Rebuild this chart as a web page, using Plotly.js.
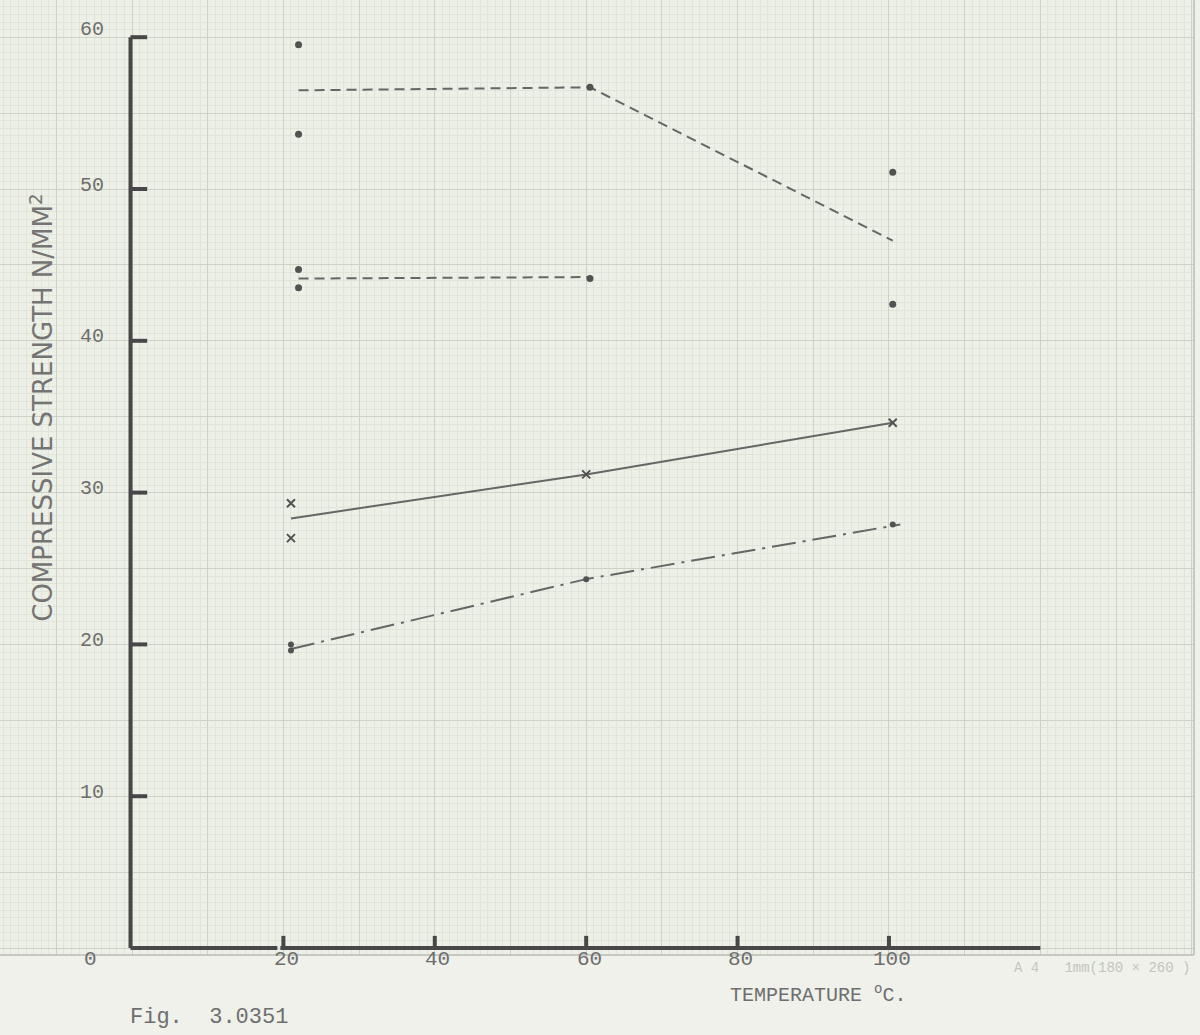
<!DOCTYPE html>
<html>
<head>
<meta charset="utf-8">
<script src="https://cdn.plot.ly/plotly-3.0.1.min.js"></script>
<style>html,body{margin:0;padding:0;background:#eff1ea;}#chart{width:1200px;height:1035px;}</style>
</head>
<body>
<div id="chart"></div>
<script>
// ---- Data ----
// Series A: upper dashed line (circles)
const lineTempA = [22, 60.5, 100.5];
const lineA     = [56.5, 56.7, 46.6];
const ptTempA   = [22, 22, 60.5, 100.5, 100.5];
const ptA       = [59.5, 53.6, 56.7, 51.1, 42.4];
// Series B: lower dashed line (circles)
const lineTempB = [22, 60.5];
const lineB     = [44.1, 44.2];
const ptTempB   = [22, 22, 60.5];
const ptB       = [44.7, 43.5, 44.1];
// Series C: solid line (crosses)
const lineTempC = [21, 60, 100.5];
const lineC     = [28.3, 31.2, 34.6];
const ptTempC   = [21, 21, 60, 100.5];
const ptC       = [29.3, 27.0, 31.2, 34.6];
// Series D: dash-dot line (small circles)
const lineTempD = [21, 60, 101.5];
const lineD     = [19.7, 24.3, 27.9];
const ptTempD   = [21, 21, 60, 100.5];
const ptD       = [20.0, 19.6, 24.3, 27.9];

// Axis ticks / labels
const xTickVals   = [0, 20, 40, 60, 80, 100];
const xTickLabels = ['0', '20', '40', '60', '80', '100'];
const yTickVals   = [10, 20, 30, 40, 50, 60];
const yTickLabels = ['10', '20', '30', '40', '50', '60'];
const xAxisMax = 120;
const yAxisMax = 60;

// ---- Styling ----
const lineCol = '#666666';
const markCol = '#525252';
const axisCol = '#474747';
const textCol = '#6e6e6e';
const mono = '"Liberation Mono", "DejaVu Sans Mono", monospace';
const plotH = 955; // plot-area height in px (for paper-y conversions)
const py = p => (plotH - p) / plotH;

const traces = [
  {x: lineTempA, y: lineA, mode: 'lines', line: {color: lineCol, width: 2, dash: '10px,6px'}},
  {x: ptTempA, y: ptA, mode: 'markers', marker: {color: markCol, size: 7, symbol: 'circle'}},
  {x: lineTempB, y: lineB, mode: 'lines', line: {color: lineCol, width: 2, dash: '10px,6px'}},
  {x: ptTempB, y: ptB, mode: 'markers', marker: {color: markCol, size: 7, symbol: 'circle'}},
  {x: lineTempC, y: lineC, mode: 'lines', line: {color: lineCol, width: 2}},
  {x: ptTempC, y: ptC, mode: 'markers', marker: {color: markCol, size: 8, symbol: 'x-thin-open', line: {color: markCol, width: 2}}},
  {x: lineTempD, y: lineD, mode: 'lines', line: {color: lineCol, width: 2, dash: '24px,7px,3px,7px'}},
  {x: ptTempD, y: ptD, mode: 'markers', marker: {color: markCol, size: 6, symbol: 'circle'}}
];

// Axis lines and ticks drawn in data coordinates
const shapes = [];
const axLine = {color: axisCol, width: 4};
shapes.push({type: 'line', xref: 'x', yref: 'y', x0: -0.2, x1: -0.2, y0: 0, y1: yAxisMax, line: axLine, layer: 'above'});
shapes.push({type: 'line', xref: 'x', yref: 'y', x0: -0.2, x1: 19.2, y0: 0, y1: 0, line: axLine, layer: 'above'});
shapes.push({type: 'line', xref: 'x', yref: 'y', x0: 19.6, x1: xAxisMax, y0: 0, y1: 0, line: axLine, layer: 'above'});
yTickVals.forEach(v => shapes.push({type: 'line', xref: 'x', yref: 'y', x0: -0.2, x1: 2.0, y0: v, y1: v, line: axLine, layer: 'above'}));
xTickVals.filter(v => v > 0).forEach(v => shapes.push({type: 'line', xref: 'x', yref: 'y', x0: v, x1: v, y0: 0, y1: 0.8, line: axLine, layer: 'above'}));
// graph-paper edge (bottom and right)
shapes.push({type: 'line', xref: 'paper', yref: 'paper', x0: 0, x1: 1, y0: 0, y1: 0, line: {color: '#b9bdb2', width: 1.5}});
shapes.push({type: 'line', xref: 'paper', yref: 'paper', x0: 1, x1: 1, y0: 0, y1: 1, line: {color: '#b9bdb2', width: 1.5}});

const annotations = [];
yTickVals.forEach((v, i) => annotations.push({
  x: -3.4, y: v, xref: 'x', yref: 'y', text: yTickLabels[i], showarrow: false,
  xanchor: 'right', yanchor: 'middle', yshift: (v === 60 ? 8 : 4), font: {family: mono, size: 20, color: textCol}
}));
xTickVals.forEach((v, i) => annotations.push({
  x: v, y: py(959), xref: 'x', yref: 'paper', text: xTickLabels[i], showarrow: false,
  xanchor: 'center', yanchor: 'middle', xshift: (v === 0 ? -42 : 3), font: {family: mono, size: 21, color: textCol}
}));
annotations.push({x: -12.0, y: 35.6, xref: 'x', yref: 'y', textangle: -90, showarrow: false,
  text: 'COMPRESSIVE STRENGTH N/MM<sup>2</sup>',
  font: {family: '"DejaVu Sans", sans-serif', size: 26, color: '#747474'}});
annotations.push({x: -0.5, y: py(1017), xref: 'x', yref: 'paper', xanchor: 'left', yanchor: 'middle', showarrow: false,
  text: 'Fig.  3.0351', font: {family: mono, size: 22, color: textCol}});
annotations.push({x: 78.7, y: py(994), xref: 'x', yref: 'paper', xanchor: 'left', yanchor: 'middle', showarrow: false,
  text: 'TEMPERATURE <sup>o</sup>C.', font: {family: mono, size: 20, color: textCol}});
annotations.push({x: 140.0, y: py(968), xref: 'x', yref: 'paper', xanchor: 'right', yanchor: 'middle', showarrow: false,
  text: 'A 4   1mm(180 \u00d7 260 )', font: {family: mono, size: 14, color: '#c2c6bc'}});

const layout = {
  width: 1200, height: 1035,
  margin: {l: 0, r: 6, t: 0, b: 80},
  paper_bgcolor: '#eff1ea',
  plot_bgcolor: '#edf0e6',
  showlegend: false,
  xaxis: {
    range: [-17.44, 140.3], showticklabels: false, ticks: '', zeroline: false, showline: false,
    showgrid: true, tick0: 0, dtick: 10, gridcolor: '#cdd1c6', gridwidth: 1,
    minor: {showgrid: true, tick0: 0, dtick: 1, gridcolor: '#e1e4da', gridwidth: 1}
  },
  yaxis: {
    range: [-0.46, 62.45], showticklabels: false, ticks: '', zeroline: false, showline: false,
    showgrid: true, tick0: 0, dtick: 5, gridcolor: '#cdd1c6', gridwidth: 1,
    minor: {showgrid: true, tick0: 0, dtick: 0.5, gridcolor: '#e1e4da', gridwidth: 1}
  },
  shapes: shapes,
  annotations: annotations
};

Plotly.newPlot('chart', traces, layout, {staticPlot: true, displayModeBar: false});
</script>
</body>
</html>
